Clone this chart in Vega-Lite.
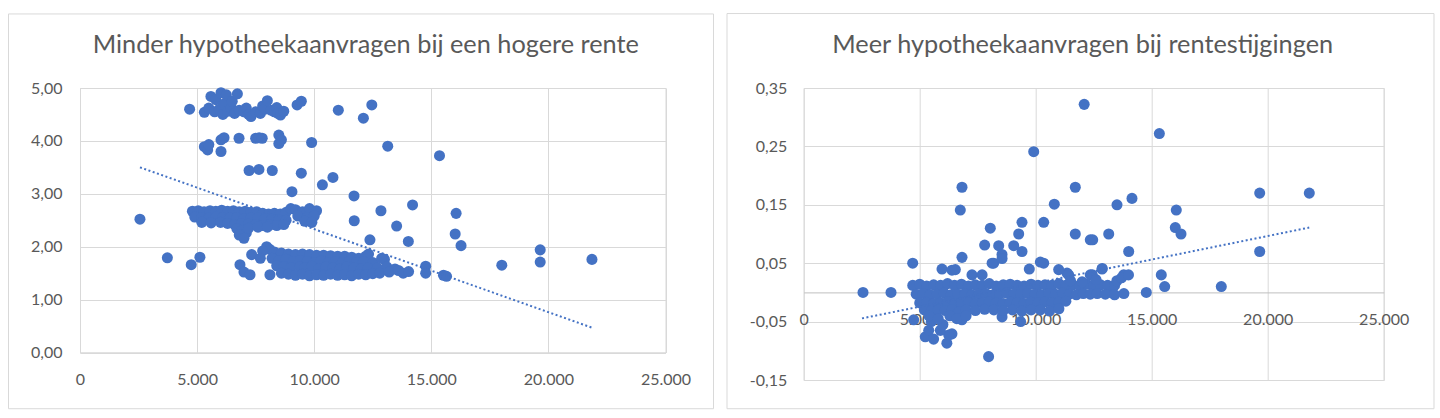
{
  "$schema": "https://vega.github.io/schema/vega-lite/v6.json",
  "background": "white",
  "padding": {"left": 7, "top": 12, "right": 8, "bottom": 11},
  "datasets": {
    "links": [
      {"x": 2560, "y": 2.52}, {"x": 3730, "y": 1.79}, {"x": 4750, "y": 1.66}, {"x": 5120, "y": 1.80}, {"x": 4680, "y": 4.60},
      {"x": 11030, "y": 4.58}, {"x": 12100, "y": 4.43}, {"x": 12460, "y": 4.68}, {"x": 13140, "y": 3.90}, {"x": 15350, "y": 3.72},
      {"x": 9890, "y": 3.97}, {"x": 7220, "y": 3.44}, {"x": 7640, "y": 3.46}, {"x": 8210, "y": 3.44}, {"x": 9450, "y": 3.39},
      {"x": 9050, "y": 3.04}, {"x": 10350, "y": 3.17}, {"x": 10800, "y": 3.31}, {"x": 11700, "y": 2.96}, {"x": 12850, "y": 2.68},
      {"x": 14200, "y": 2.79}, {"x": 16060, "y": 2.63}, {"x": 11710, "y": 2.49}, {"x": 13520, "y": 2.39}, {"x": 12380, "y": 2.13},
      {"x": 14020, "y": 2.10}, {"x": 16020, "y": 2.24}, {"x": 16270, "y": 2.02}, {"x": 19650, "y": 1.94}, {"x": 19650, "y": 1.71},
      {"x": 21860, "y": 1.76}, {"x": 18010, "y": 1.65}, {"x": 14760, "y": 1.63}, {"x": 14760, "y": 1.50}, {"x": 15520, "y": 1.46},
      {"x": 15650, "y": 1.44}, {"x": 13000, "y": 1.76},
      {"x": 5310, "y": 3.89}, {"x": 5450, "y": 3.83}, {"x": 5500, "y": 3.93}, {"x": 6020, "y": 4.02}, {"x": 6020, "y": 3.80},
      {"x": 6150, "y": 4.06}, {"x": 6790, "y": 4.05}, {"x": 7500, "y": 4.05}, {"x": 7650, "y": 4.06}, {"x": 7780, "y": 4.05},
      {"x": 8490, "y": 4.11}, {"x": 8490, "y": 3.95}, {"x": 8600, "y": 4.02},
      {"x": 5310, "y": 4.54}, {"x": 5500, "y": 4.62}, {"x": 5590, "y": 4.84}, {"x": 5750, "y": 4.55}, {"x": 5800, "y": 4.78},
      {"x": 5950, "y": 4.60}, {"x": 6020, "y": 4.91}, {"x": 6100, "y": 4.50}, {"x": 6150, "y": 4.70}, {"x": 6250, "y": 4.87},
      {"x": 6300, "y": 4.56}, {"x": 6450, "y": 4.62}, {"x": 6500, "y": 4.75}, {"x": 6600, "y": 4.52}, {"x": 6720, "y": 4.89},
      {"x": 6800, "y": 4.58}, {"x": 7000, "y": 4.55}, {"x": 7100, "y": 4.62}, {"x": 7200, "y": 4.50}, {"x": 7300, "y": 4.46},
      {"x": 7500, "y": 4.55}, {"x": 7700, "y": 4.52}, {"x": 7800, "y": 4.66}, {"x": 7900, "y": 4.60}, {"x": 8000, "y": 4.76},
      {"x": 8150, "y": 4.58}, {"x": 8300, "y": 4.55}, {"x": 8400, "y": 4.63}, {"x": 8450, "y": 4.52}, {"x": 8560, "y": 4.49},
      {"x": 8700, "y": 4.56}, {"x": 9270, "y": 4.68}, {"x": 9450, "y": 4.75},
      {"x": 4800, "y": 2.67}, {"x": 5050, "y": 2.68}, {"x": 5300, "y": 2.66}, {"x": 5550, "y": 2.68}, {"x": 5800, "y": 2.67},
      {"x": 6050, "y": 2.69}, {"x": 6300, "y": 2.67}, {"x": 6550, "y": 2.68}, {"x": 6800, "y": 2.66}, {"x": 7050, "y": 2.67},
      {"x": 7300, "y": 2.65}, {"x": 7550, "y": 2.66}, {"x": 7800, "y": 2.63}, {"x": 8050, "y": 2.62}, {"x": 8300, "y": 2.63},
      {"x": 8550, "y": 2.62}, {"x": 8800, "y": 2.65}, {"x": 9000, "y": 2.72}, {"x": 9200, "y": 2.70}, {"x": 9500, "y": 2.66},
      {"x": 9800, "y": 2.72}, {"x": 10100, "y": 2.68}, {"x": 4900, "y": 2.56}, {"x": 5200, "y": 2.55}, {"x": 5500, "y": 2.54},
      {"x": 5800, "y": 2.56}, {"x": 6100, "y": 2.55}, {"x": 6400, "y": 2.54}, {"x": 6700, "y": 2.55}, {"x": 7000, "y": 2.53},
      {"x": 7300, "y": 2.55}, {"x": 7600, "y": 2.54}, {"x": 7900, "y": 2.52}, {"x": 8200, "y": 2.53}, {"x": 8500, "y": 2.51},
      {"x": 8800, "y": 2.50}, {"x": 9300, "y": 2.58}, {"x": 9700, "y": 2.55}, {"x": 10000, "y": 2.58}, {"x": 9600, "y": 2.48},
      {"x": 9900, "y": 2.46}, {"x": 5200, "y": 2.46}, {"x": 5600, "y": 2.45}, {"x": 6000, "y": 2.46}, {"x": 6300, "y": 2.44},
      {"x": 6600, "y": 2.42}, {"x": 6900, "y": 2.44}, {"x": 7200, "y": 2.43}, {"x": 7500, "y": 2.42}, {"x": 7800, "y": 2.40},
      {"x": 8100, "y": 2.41}, {"x": 8400, "y": 2.40}, {"x": 8700, "y": 2.42}, {"x": 6700, "y": 2.34}, {"x": 6900, "y": 2.30},
      {"x": 7100, "y": 2.26}, {"x": 6800, "y": 2.22}, {"x": 7000, "y": 2.16}, {"x": 7200, "y": 2.35}, {"x": 7600, "y": 2.37},
      {"x": 8000, "y": 2.37},
      {"x": 7970, "y": 2.00}, {"x": 8100, "y": 1.95}, {"x": 8300, "y": 1.90}, {"x": 8600, "y": 1.88}, {"x": 8900, "y": 1.86},
      {"x": 9200, "y": 1.85}, {"x": 9500, "y": 1.86}, {"x": 9800, "y": 1.85}, {"x": 10100, "y": 1.84}, {"x": 10400, "y": 1.84},
      {"x": 10700, "y": 1.83}, {"x": 11000, "y": 1.82}, {"x": 11300, "y": 1.82}, {"x": 11600, "y": 1.80}, {"x": 11900, "y": 1.78},
      {"x": 12200, "y": 1.82}, {"x": 12320, "y": 1.86}, {"x": 7330, "y": 1.85}, {"x": 7800, "y": 1.92}, {"x": 7700, "y": 1.78},
      {"x": 8200, "y": 1.78}, {"x": 8500, "y": 1.74}, {"x": 8800, "y": 1.76}, {"x": 9100, "y": 1.72}, {"x": 9400, "y": 1.74},
      {"x": 9700, "y": 1.72}, {"x": 10000, "y": 1.70}, {"x": 10300, "y": 1.73}, {"x": 10600, "y": 1.70}, {"x": 10900, "y": 1.72},
      {"x": 11200, "y": 1.70}, {"x": 11500, "y": 1.72}, {"x": 11800, "y": 1.70}, {"x": 12100, "y": 1.72}, {"x": 12500, "y": 1.70},
      {"x": 12880, "y": 1.78}, {"x": 6830, "y": 1.66}, {"x": 8400, "y": 1.64}, {"x": 8700, "y": 1.62}, {"x": 9000, "y": 1.60},
      {"x": 9400, "y": 1.62}, {"x": 9600, "y": 1.60}, {"x": 9900, "y": 1.63}, {"x": 10200, "y": 1.58}, {"x": 10500, "y": 1.62},
      {"x": 10800, "y": 1.60}, {"x": 11100, "y": 1.58}, {"x": 11400, "y": 1.62}, {"x": 11700, "y": 1.60}, {"x": 12000, "y": 1.58},
      {"x": 12300, "y": 1.60}, {"x": 12700, "y": 1.60}, {"x": 13100, "y": 1.62}, {"x": 13450, "y": 1.58}, {"x": 7000, "y": 1.52},
      {"x": 7260, "y": 1.47}, {"x": 8110, "y": 1.47}, {"x": 8600, "y": 1.50}, {"x": 8900, "y": 1.48}, {"x": 9200, "y": 1.46},
      {"x": 9500, "y": 1.48}, {"x": 9800, "y": 1.45}, {"x": 10100, "y": 1.47}, {"x": 10400, "y": 1.46}, {"x": 10700, "y": 1.48},
      {"x": 11000, "y": 1.46}, {"x": 11300, "y": 1.47}, {"x": 11600, "y": 1.45}, {"x": 11900, "y": 1.48}, {"x": 12200, "y": 1.47},
      {"x": 12500, "y": 1.49}, {"x": 12800, "y": 1.50}, {"x": 13200, "y": 1.52}, {"x": 13600, "y": 1.55}, {"x": 13800, "y": 1.50},
      {"x": 14030, "y": 1.53}
    ],
    "rechts": [
      {"x": 2556, "y": 0.0}, {"x": 3763, "y": 0.0}, {"x": 4698, "y": 0.05}, {"x": 12090, "y": 0.322}, {"x": 15330, "y": 0.272},
      {"x": 9914, "y": 0.241}, {"x": 6823, "y": 0.18}, {"x": 6750, "y": 0.141}, {"x": 11707, "y": 0.18}, {"x": 10802, "y": 0.151},
      {"x": 9409, "y": 0.12}, {"x": 10345, "y": 0.12}, {"x": 8043, "y": 0.11}, {"x": 11707, "y": 0.10}, {"x": 12353, "y": 0.09},
      {"x": 9267, "y": 0.10}, {"x": 7800, "y": 0.081}, {"x": 8405, "y": 0.08}, {"x": 9052, "y": 0.08}, {"x": 9409, "y": 0.07},
      {"x": 8547, "y": 0.065}, {"x": 8190, "y": 0.05}, {"x": 6823, "y": 0.06}, {"x": 10345, "y": 0.05}, {"x": 9724, "y": 0.04},
      {"x": 19655, "y": 0.17}, {"x": 21793, "y": 0.17}, {"x": 14150, "y": 0.161}, {"x": 13504, "y": 0.15}, {"x": 16060, "y": 0.141},
      {"x": 16017, "y": 0.111}, {"x": 16263, "y": 0.10}, {"x": 13147, "y": 0.10}, {"x": 12457, "y": 0.09}, {"x": 14009, "y": 0.07},
      {"x": 19655, "y": 0.07}, {"x": 12857, "y": 0.04}, {"x": 12353, "y": 0.03}, {"x": 13793, "y": 0.03}, {"x": 15414, "y": 0.03},
      {"x": 15560, "y": 0.01}, {"x": 18000, "y": 0.01}, {"x": 14767, "y": 0.0}, {"x": 13216, "y": 0.0}, {"x": 11349, "y": 0.033},
      {"x": 10991, "y": 0.039}, {"x": 11422, "y": 0.03},
      {"x": 5961, "y": 0.04}, {"x": 6390, "y": 0.038}, {"x": 6535, "y": 0.039}, {"x": 7254, "y": 0.03}, {"x": 7690, "y": 0.03},
      {"x": 8120, "y": 0.05}, {"x": 8550, "y": 0.058}, {"x": 10200, "y": 0.052}, {"x": 12440, "y": 0.03}, {"x": 12870, "y": 0.041},
      {"x": 4741, "y": -0.047}, {"x": 5240, "y": -0.076}, {"x": 5390, "y": -0.065}, {"x": 6170, "y": -0.087}, {"x": 6390, "y": -0.071},
      {"x": 6250, "y": -0.073}, {"x": 6820, "y": -0.047}, {"x": 5888, "y": -0.065}, {"x": 7970, "y": -0.11}, {"x": 9350, "y": -0.05},
      {"x": 8550, "y": -0.042}, {"x": 5600, "y": -0.08}, {"x": 6000, "y": -0.055}, {"x": 5500, "y": -0.05},
      {"x": 4700, "y": 0.012}, {"x": 5000, "y": 0.014}, {"x": 5300, "y": 0.011}, {"x": 5600, "y": 0.013}, {"x": 5900, "y": 0.012},
      {"x": 6200, "y": 0.015}, {"x": 6500, "y": 0.012}, {"x": 6800, "y": 0.014}, {"x": 7100, "y": 0.011}, {"x": 7400, "y": 0.013},
      {"x": 7700, "y": 0.012}, {"x": 8000, "y": 0.015}, {"x": 8300, "y": 0.011}, {"x": 8600, "y": 0.013}, {"x": 8900, "y": 0.014},
      {"x": 9200, "y": 0.012}, {"x": 9500, "y": 0.011}, {"x": 9800, "y": 0.014}, {"x": 10100, "y": 0.012}, {"x": 10400, "y": 0.013},
      {"x": 10700, "y": 0.012}, {"x": 11000, "y": 0.015}, {"x": 11300, "y": 0.012}, {"x": 11600, "y": 0.013}, {"x": 11900, "y": 0.011},
      {"x": 12200, "y": 0.014}, {"x": 12500, "y": 0.012}, {"x": 12800, "y": 0.013}, {"x": 13100, "y": 0.012}, {"x": 13400, "y": 0.012},
      {"x": 4850, "y": -0.003}, {"x": 5150, "y": -0.002}, {"x": 5450, "y": -0.004}, {"x": 5750, "y": -0.003}, {"x": 6050, "y": -0.001},
      {"x": 6350, "y": -0.004}, {"x": 6650, "y": -0.003}, {"x": 6950, "y": -0.002}, {"x": 7250, "y": -0.004}, {"x": 7550, "y": -0.003},
      {"x": 7850, "y": -0.002}, {"x": 8150, "y": -0.004}, {"x": 8450, "y": -0.003}, {"x": 8750, "y": -0.001}, {"x": 9050, "y": -0.003},
      {"x": 9350, "y": -0.004}, {"x": 9650, "y": -0.002}, {"x": 9950, "y": -0.003}, {"x": 10250, "y": -0.004}, {"x": 10550, "y": -0.002},
      {"x": 10850, "y": -0.003}, {"x": 11150, "y": -0.001}, {"x": 11450, "y": -0.003}, {"x": 11750, "y": -0.004}, {"x": 12050, "y": -0.002},
      {"x": 12350, "y": -0.003}, {"x": 12650, "y": -0.002}, {"x": 13000, "y": -0.003}, {"x": 13400, "y": -0.004}, {"x": 13800, "y": -0.002},
      {"x": 5000, "y": -0.018}, {"x": 5300, "y": -0.017}, {"x": 5600, "y": -0.019}, {"x": 5900, "y": -0.018}, {"x": 6200, "y": -0.016},
      {"x": 6500, "y": -0.019}, {"x": 6800, "y": -0.018}, {"x": 7100, "y": -0.017}, {"x": 7400, "y": -0.019}, {"x": 7700, "y": -0.018},
      {"x": 8000, "y": -0.016}, {"x": 8300, "y": -0.018}, {"x": 8600, "y": -0.019}, {"x": 8900, "y": -0.017}, {"x": 9200, "y": -0.018},
      {"x": 9500, "y": -0.019}, {"x": 9800, "y": -0.017}, {"x": 10100, "y": -0.018}, {"x": 10400, "y": -0.016}, {"x": 10700, "y": -0.018},
      {"x": 11000, "y": -0.017}, {"x": 11300, "y": -0.015},
      {"x": 5200, "y": -0.03}, {"x": 5500, "y": -0.032}, {"x": 5800, "y": -0.03}, {"x": 6100, "y": -0.031}, {"x": 6400, "y": -0.03},
      {"x": 6700, "y": -0.033}, {"x": 7000, "y": -0.03}, {"x": 7400, "y": -0.031}, {"x": 7800, "y": -0.029}, {"x": 8200, "y": -0.03},
      {"x": 8600, "y": -0.031}, {"x": 9000, "y": -0.03}, {"x": 9400, "y": -0.032}, {"x": 9800, "y": -0.03}, {"x": 10200, "y": -0.03},
      {"x": 10600, "y": -0.032}, {"x": 11000, "y": -0.028},
      {"x": 5400, "y": -0.04}, {"x": 5800, "y": -0.045}, {"x": 6300, "y": -0.04}, {"x": 6600, "y": -0.045}, {"x": 7000, "y": -0.04},
      {"x": 13500, "y": 0.02}, {"x": 13700, "y": 0.025}, {"x": 14000, "y": 0.03}, {"x": 11500, "y": 0.02}, {"x": 12000, "y": 0.018},
      {"x": 12600, "y": 0.022}
    ],
    "trend_links": [{"x": 2560, "y": 3.50}, {"x": 21860, "y": 0.47}],
    "trend_rechts": [{"x": 2513, "y": -0.0445}, {"x": 21790, "y": 0.111}]
  },
  "bounds": "flush",
  "spacing": 137.7,
  "hconcat": [
    {
      "title": {"text": "Minder hypotheekaanvragen bij een hogere rente", "dx": -7},
      "width": 585.5,
      "height": 264.5,
      "layer": [
        {
          "data": {"values": [{}]},
          "mark": {"type": "rect", "fill": null, "stroke": "#d9d9d9", "strokeWidth": 1},
          "encoding": {
            "x": {"datum": -3053, "type": "quantitative", "scale": {"domain": [0, 25000], "nice": false}, "axis": {"title": null}},
            "x2": {"datum": 27050},
            "y": {"datum": 6.40, "type": "quantitative", "scale": {"domain": [0, 5], "nice": false}, "axis": {"title": null}},
            "y2": {"datum": -1.063}
          }
        },
        {
          "data": {"name": "links"},
          "mark": {"type": "circle", "size": 122, "color": "#4472C4", "opacity": 1},
          "encoding": {
            "x": {
              "field": "x", "type": "quantitative",
              "scale": {"domain": [0, 25000], "nice": false},
              "axis": {
                "title": null, "values": [0, 5000, 10000, 15000, 20000, 25000],
                "labelExpr": "replace(format(datum.value, ','), ',', '.')",
                "domain": true, "domainColor": "#d9d9d9", "labelPadding": 19
              }
            },
            "y": {
              "field": "y", "type": "quantitative",
              "scale": {"domain": [0, 5], "nice": false},
              "axis": {
                "title": null, "values": [0, 1, 2, 3, 4, 5],
                "labelExpr": "replace(format(datum.value, '.2f'), '.', ',')",
                "labelPadding": 18
              }
            }
          }
        },
        {
          "data": {"name": "trend_links"},
          "mark": {"type": "line", "color": "#4472C4", "strokeWidth": 2, "strokeDash": [2, 2.5]},
          "encoding": {
            "x": {"field": "x", "type": "quantitative", "scale": {"domain": [0, 25000], "nice": false}},
            "y": {"field": "y", "type": "quantitative", "scale": {"domain": [0, 5], "nice": false}}
          }
        }
      ]
    },
    {
      "title": {"text": "Meer hypotheekaanvragen bij rentestijgingen", "dx": -11},
      "width": 580,
      "height": 292,
      "layer": [
        {
          "data": {"values": [{}]},
          "mark": {"type": "rect", "fill": null, "stroke": "#d9d9d9", "strokeWidth": 1},
          "encoding": {
            "x": {"datum": -3306, "type": "quantitative", "scale": {"domain": [0, 25000], "nice": false}, "axis": {"title": null}},
            "x2": {"datum": 27168},
            "y": {"datum": 0.4775, "type": "quantitative", "scale": {"domain": [-0.15, 0.35], "nice": false}, "axis": {"title": null}},
            "y2": {"datum": -0.1992}
          }
        },
        {
          "data": {"name": "rechts"},
          "mark": {"type": "circle", "size": 122, "color": "#4472C4", "opacity": 1},
          "encoding": {
            "x": {
              "field": "x", "type": "quantitative",
              "scale": {"domain": [0, 25000], "nice": false},
              "axis": {
                "title": null, "values": [0, 5000, 10000, 15000, 20000, 25000],
                "labelExpr": "replace(format(datum.value, ','), ',', '.')",
                "domain": true, "domainColor": "#bfbfbf", "offset": -87.6, "labelPadding": 19
              }
            },
            "y": {
              "field": "y", "type": "quantitative",
              "scale": {"domain": [-0.15, 0.35], "nice": false},
              "axis": {
                "title": null, "values": [-0.15, -0.05, 0.05, 0.15, 0.25, 0.35],
                "labelExpr": "replace(replace(format(datum.value, '.2f'), '.', ','), '\u2212', '-')",
                "labelPadding": 17
              }
            }
          }
        },
        {
          "data": {"name": "trend_rechts"},
          "mark": {"type": "line", "color": "#4472C4", "strokeWidth": 2, "strokeDash": [2, 2.5]},
          "encoding": {
            "x": {"field": "x", "type": "quantitative", "scale": {"domain": [0, 25000], "nice": false}},
            "y": {"field": "y", "type": "quantitative", "scale": {"domain": [-0.15, 0.35], "nice": false}}
          }
        }
      ]
    }
  ],
  "config": {
    "font": "Lato",
    "view": {"stroke": "#d9d9d9", "strokeWidth": 1},
    "axis": {
      "grid": true, "gridColor": "#d9d9d9", "gridWidth": 1,
      "ticks": false, "domain": false,
      "labelColor": "#595959", "labelFont": "Lato", "labelFontSize": 16,
      "labelFlush": false, "labelOverlap": false
    },
    "title": {"font": "Lato", "fontSize": 25.3, "fontWeight": "normal", "color": "#595959", "anchor": "middle", "frame": "group", "offset": -45}
  }
}
